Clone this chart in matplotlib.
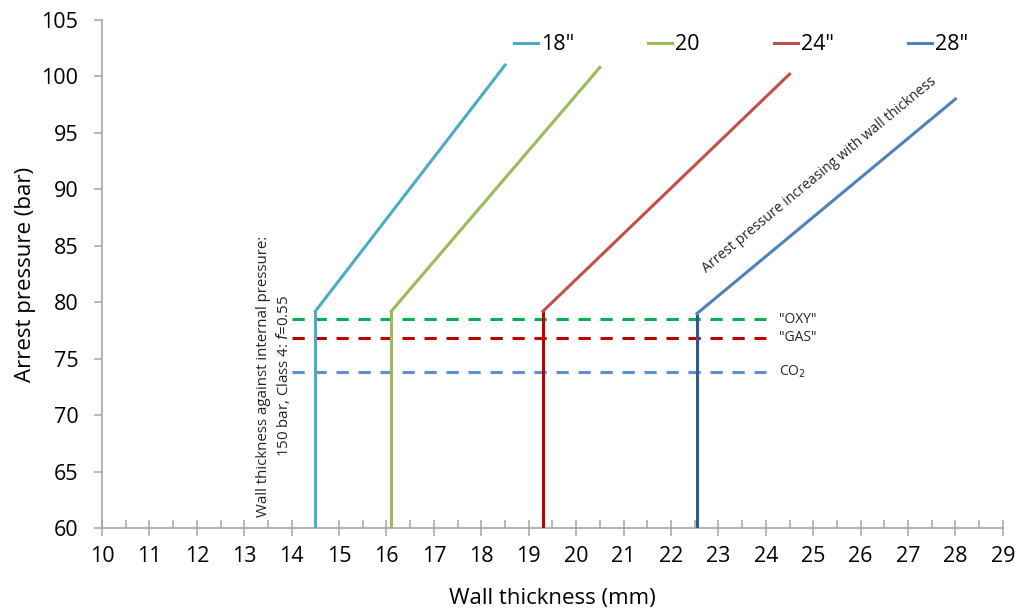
import matplotlib.pyplot as plt
from matplotlib.ticker import MultipleLocator

plt.rcParams['font.family'] = ['Open Sans', 'DejaVu Sans']

# Pipe sizes: wall thickness (mm) vs arrest pressure (bar)
sizes = ['18"', '20', '24"', '28"']
wall_min = [14.5, 16.1, 19.3, 22.55]
wall_end = [18.5, 20.5, 24.5, 28.0]
p_knee = [79.2, 79.2, 79.2, 79.0]
p_end = [101.0, 100.8, 100.2, 98.0]
p_base = 60

line_colors = ['#4BACC6', '#9BBB59', '#C0504D', '#4F81BD']
vert_colors = ['#4BACC6', '#9BBB59', '#C00000', '#2C5A8C']

# Required arrest pressures per fluid
fluids = ['"OXY"', '"GAS"', 'CO$_2$']
fluid_p = [78.5, 76.85, 73.8]
fluid_colors = ['#00B050', '#C00000', '#5B8FD6']
fluid_x = [14, 24]

fig = plt.figure(figsize=(10.17, 6.11), dpi=100)
ax = fig.add_axes([0.1003, 0.1358, 0.8858, 0.8315])

for i in range(len(sizes)):
    ax.plot([wall_min[i], wall_min[i]], [p_base, p_knee[i]], color=vert_colors[i], lw=2.2,
            solid_capstyle='butt', zorder=3)
    ax.plot([wall_min[i], wall_end[i]], [p_knee[i], p_end[i]], color=line_colors[i], lw=2.2,
            label=sizes[i], zorder=3)

for i in range(len(fluids)):
    ax.plot(fluid_x, [fluid_p[i], fluid_p[i]], color=fluid_colors[i], lw=2.2,
            dashes=(4, 3.2), zorder=2)
    ax.text(24.28, fluid_p[i], fluids[i], fontsize=10, va='center', ha='left', color='#222222')

ax.text(13.63, 61.0, 'Wall thickness against internal pressure:\n150 bar, Class 4: $\\mathit{f}$=0.55',
        rotation=90, fontsize=10.8, ha='center', va='bottom', linespacing=1.2, color='#222222')
ax.text(22.8, 82.3, 'Arrest pressure increasing with wall thickness', rotation=39.6,
        rotation_mode='anchor', fontsize=10.1, ha='left', va='bottom', color='#222222')

ax.set_xlim(10, 29)
ax.set_ylim(60, 105)
ax.xaxis.set_major_locator(MultipleLocator(1))
ax.xaxis.set_minor_locator(MultipleLocator(0.5))
ax.yaxis.set_major_locator(MultipleLocator(5))

for s in ['top', 'right']:
    ax.spines[s].set_visible(False)
for s in ['left', 'bottom']:
    ax.spines[s].set_color('#A6A6A6')
    ax.spines[s].set_linewidth(1.2)

ax.tick_params(axis='x', which='major', direction='inout', length=12, width=1.1,
               color='#A6A6A6', labelsize=15.5, pad=7)
ax.tick_params(axis='x', which='minor', direction='in', length=6, width=1.1, color='#A6A6A6')
ax.tick_params(axis='y', which='major', direction='out', length=6, width=1.1,
               color='#A6A6A6', labelsize=15.5, pad=11)

ax.set_xlabel('Wall thickness (mm)', fontsize=16, labelpad=15)
ax.set_ylabel('Arrest pressure (bar)', fontsize=16, labelpad=4)

ax.legend(loc='upper right', bbox_to_anchor=(0.983, 1.01), ncol=4, frameon=False, fontsize=15.5,
          handlelength=1.1, handletextpad=0.15, columnspacing=3.45)

fig.savefig('out.png', dpi=100)
